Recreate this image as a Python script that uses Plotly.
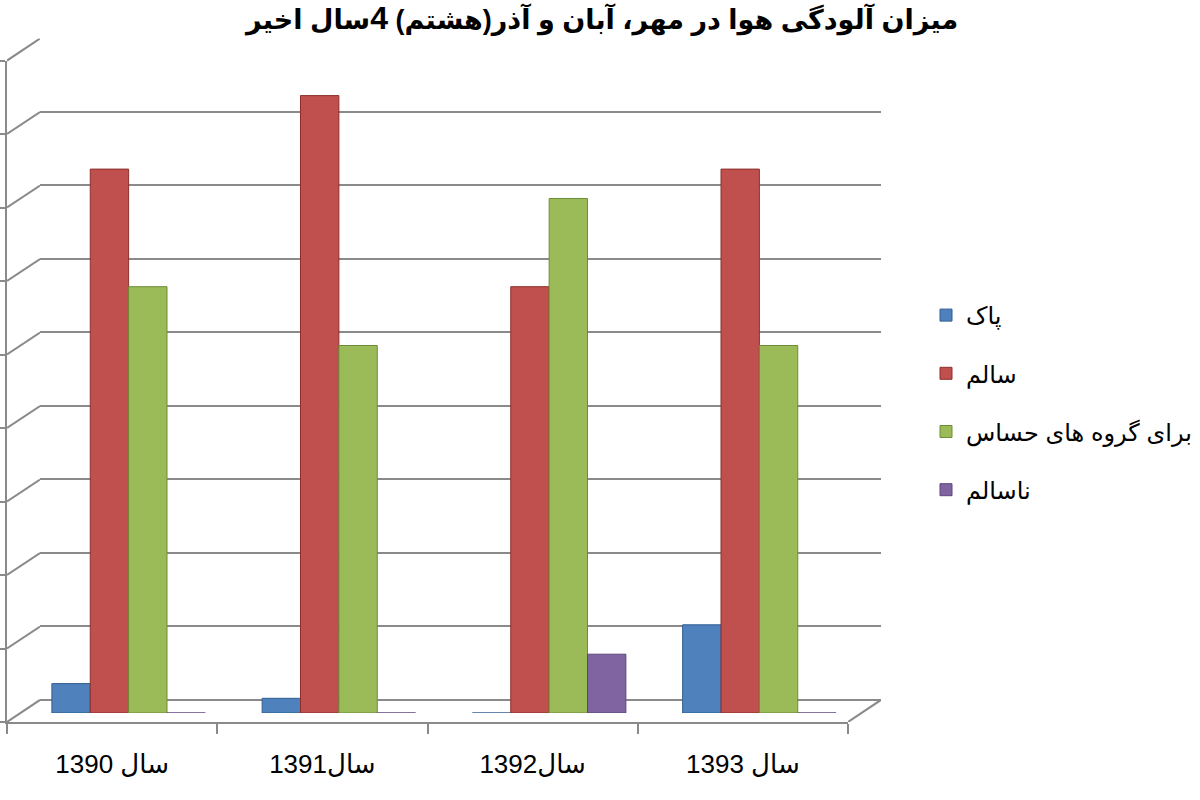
import plotly.graph_objects as go

W, H = 1200, 800

# data (days per class, Mehr/Aban/Azar up to the 8th)
years = ["سال 1390", "سال1391", "سال1392", "سال 1393"]
series_names = ["پاک", "سالم", "برای گروه های حساس", "ناسالم"]
clean = [2, 1, 0, 6]
healthy = [37, 42, 29, 37]
sensitive = [29, 25, 35, 25]
unhealthy = [0, 0, 4, 0]
grid_values = [0, 5, 10, 15, 20, 25, 30, 35, 40, 45]

COLORS = ["#4F81BD", "#C0504D", "#9BBB59", "#8064A2"]
EDGES = ["#2f5f93", "#8c2f2c", "#6f8c37", "#5a4479"]
GRID = "#8a8a8a"
FONT = "Liberation Sans, DejaVu Sans, sans-serif"

Y_MAX = 45
DEPTH = 1.5  # front plane sits 1.5 units below the back wall


def px_x(p):
    return p / W


def px_y(p):
    return 1 - p / H


values = [clean, healthy, sensitive, unhealthy]

fig = go.Figure()

# back wall (carries the gridlines)
fig.add_trace(go.Scatter(x=[], y=[], xaxis="x", yaxis="y", showlegend=False))

# cylinders, drawn on the middle plane
for name, vals, col, edge in zip(series_names, values, COLORS, EDGES):
    fig.add_trace(
        go.Bar(
            x=years,
            y=vals,
            name=name,
            legendgroup=name,
            marker=dict(color=col, line=dict(color=edge, width=1)),
            xaxis="x2",
            yaxis="y2",
            hoverinfo="x+y+name",
        )
    )

# front plane: category labels and floor edge
fig.add_trace(
    go.Scatter(
        x=years,
        y=[None] * len(years),
        mode="markers",
        showlegend=False,
        hoverinfo="skip",
        xaxis="x3",
        yaxis="y3",
    )
)

# left wall slants (depth 0 = front, 1 = back)
wall_x, wall_y = [], []
for v in grid_values:
    wall_x += [0, 1, None]
    wall_y += [v - DEPTH, v, None]
fig.add_trace(
    go.Scatter(
        x=wall_x, y=wall_y, mode="lines", line=dict(color=GRID, width=2),
        showlegend=False, hoverinfo="skip", xaxis="x4", yaxis="y4",
    )
)
# right edge of the floor
fig.add_trace(
    go.Scatter(
        x=[0, 1], y=[-DEPTH, 0], mode="lines", line=dict(color=GRID, width=2),
        showlegend=False, hoverinfo="skip", xaxis="x5", yaxis="y4",
    )
)

hidden = dict(showgrid=False, zeroline=False, showline=False, showticklabels=False, ticks="")

back_y_domain = [px_y(722), px_y(38.5)]

fig.update_layout(
    width=W,
    height=H,
    margin=dict(l=0, r=0, t=0, b=0),
    paper_bgcolor="white",
    plot_bgcolor="rgba(0,0,0,0)",
    barmode="group",
    bargap=0.27,
    bargroupgap=0,
    font=dict(family=FONT, color="#000000"),
    showlegend=True,
    legend=dict(
        x=px_x(926),
        y=px_y(293),
        xanchor="left",
        yanchor="top",
        font=dict(size=24, family=FONT, color="#000000"),
        traceorder="grouped",
        tracegroupgap=24,
        bgcolor="rgba(0,0,0,0)",
        itemwidth=30,
    ),
    xaxis=dict(domain=[px_x(40), px_x(881)], range=[0, 1], anchor="y", **hidden),
    yaxis=dict(
        domain=back_y_domain, range=[-DEPTH, Y_MAX], anchor="x",
        showgrid=True, gridcolor=GRID, gridwidth=2, tick0=0, dtick=5,
        zeroline=False, showline=False, showticklabels=False, ticks="",
    ),
    xaxis2=dict(
        domain=[px_x(23.5), px_x(864.5)], type="category", categoryorder="array",
        categoryarray=years, range=[-0.5, 3.5], anchor="y2", **hidden,
    ),
    yaxis2=dict(domain=[px_y(713), px_y(713 - 661.5)], range=[0, Y_MAX], anchor="x2", **hidden),
    xaxis3=dict(
        domain=[px_x(7), px_x(848)], type="category", categoryorder="array",
        categoryarray=years, range=[-0.5, 3.5], anchor="y3",
        showgrid=False, zeroline=False, showline=True, linecolor=GRID, linewidth=2,
        ticks="outside", tickson="boundaries", ticklen=10, tickwidth=2, tickcolor=GRID,
        ticklabelstandoff=18, tickfont=dict(size=26, family=FONT, color="#000000"),
    ),
    yaxis3=dict(
        domain=[px_y(722), px_y(60.5)], range=[0, Y_MAX], anchor="x3",
        showgrid=False, zeroline=False, showline=True, linecolor=GRID, linewidth=2,
        ticks="outside", ticklen=5, tickwidth=2, tickcolor=GRID, tick0=0, dtick=5,
        showticklabels=False,
    ),
    xaxis4=dict(domain=[px_x(7), px_x(40)], range=[0, 1], anchor="y4", **hidden),
    xaxis5=dict(domain=[px_x(848), px_x(881)], range=[0, 1], anchor="y4", **hidden),
    yaxis4=dict(domain=back_y_domain, range=[-DEPTH, Y_MAX], anchor="x4", **hidden),
    annotations=[
        dict(
            text="<b>میزان آلودگی هوا در مهر، آبان و آذر(هشتم) <span style='font-size:32px'>4</span>سال اخیر</b>",
            x=px_x(960),
            y=px_y(18),
            xref="paper",
            yref="paper",
            xanchor="right",
            yanchor="middle",
            showarrow=False,
            font=dict(size=27, family=FONT, color="#000000"),
        )
    ],
)

# the page's default body margin would push the chart 8px off
fig.write_html(
    "out.html",
    config={"displayModeBar": False},
    post_script="document.body.style.margin='0';",
)
